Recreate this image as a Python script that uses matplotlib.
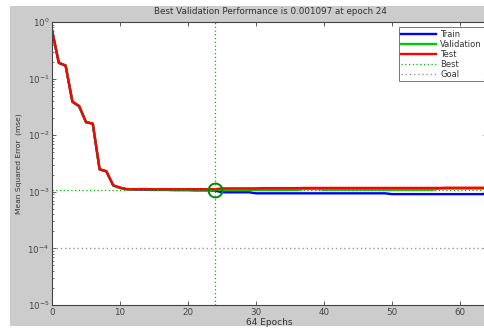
import matplotlib
matplotlib.use("Agg")
import matplotlib.pyplot as plt
from matplotlib.patches import Rectangle
from matplotlib.ticker import LogLocator, FixedLocator, NullFormatter

epochs = list(range(65))
train = [0.72, 0.19, 0.17, 0.039, 0.032, 0.017, 0.016, 0.0025, 0.0023, 0.0013,
         0.00118, 0.00111, 0.00110, 0.00109, 0.00109, 0.00108, 0.00108, 0.00108,
         0.00107, 0.00107, 0.00107, 0.00106, 0.00106, 0.00106, 0.00105,
         0.00098, 0.00098, 0.00098, 0.00098, 0.00098,
         0.00094, 0.00094, 0.00094, 0.00094, 0.00094, 0.00094, 0.00094, 0.00094,
         0.00094, 0.00094, 0.00094, 0.00094, 0.00094, 0.00094, 0.00094, 0.00094,
         0.00094, 0.00094, 0.00094, 0.00094,
         0.00091, 0.00091, 0.00091, 0.00091, 0.00091, 0.00091, 0.00091, 0.00091,
         0.00091, 0.00091, 0.00091, 0.00091, 0.00091, 0.00091, 0.00091]
validation = [0.72, 0.19, 0.17, 0.040, 0.032, 0.017, 0.016, 0.0025, 0.0023, 0.0013,
              0.00118, 0.00112, 0.00111, 0.00112, 0.00112, 0.00111, 0.00110, 0.00110,
              0.00110, 0.00110, 0.00110, 0.00110, 0.00110, 0.00110, 0.001097,
              0.00108, 0.00108, 0.00108, 0.00108, 0.00108, 0.00108, 0.00108, 0.00108,
              0.00108, 0.00108, 0.00108, 0.00108,
              0.00112, 0.00112, 0.00112,
              0.00109, 0.00109, 0.00109, 0.00109, 0.00109, 0.00109, 0.00109, 0.00109,
              0.00109, 0.00109, 0.00109, 0.00109, 0.00109, 0.00109, 0.00109, 0.00109,
              0.00109,
              0.00114, 0.00114, 0.00114, 0.00114, 0.00114, 0.00114, 0.00114, 0.00114]
test = [0.72, 0.19, 0.17, 0.039, 0.033, 0.017, 0.016, 0.0025, 0.0023, 0.0013,
        0.00118, 0.00111, 0.00111, 0.00111, 0.00111, 0.00111, 0.00111, 0.00111,
        0.00111, 0.00111, 0.00111, 0.00111, 0.00111, 0.00111, 0.00111,
        0.00115, 0.00115, 0.00115, 0.00115, 0.00115, 0.00115, 0.00116, 0.00116,
        0.00116, 0.00116, 0.00116, 0.00116, 0.00117, 0.00117, 0.00117, 0.00117,
        0.00117, 0.00117, 0.00117, 0.00117, 0.00117, 0.00117, 0.00117, 0.00117,
        0.00117, 0.00117, 0.00117, 0.00117, 0.00117, 0.00117, 0.00117, 0.00117,
        0.00117, 0.00118, 0.00118, 0.00118, 0.00118, 0.00118, 0.00118, 0.00118]
best_epoch = 24
best_perf = 0.001097
goal = 1e-4
x_ticks = [0, 10, 20, 30, 40, 50, 60]
title_text = "Best Validation Performance is 0.001097 at epoch 24"
xlabel_text = "64 Epochs"
ylabel_text = "Mean Squared Error  (mse)"

W, H = 485, 328
fig = plt.figure(figsize=(W / 100, H / 100), dpi=100)
fig.patch.set_facecolor("white")
fig.patches.append(Rectangle((10 / W, 1 - 326 / H), 1 - 10 / W, (326 - 6) / H,
                             transform=fig.transFigure, facecolor="#cccccc",
                             edgecolor="none", zorder=-10))

ax = fig.add_axes([52 / W, 1 - 305 / H, (487 - 52) / W, (305 - 22) / H])
ax.set_zorder(5)
ax.set_facecolor("white")
ax.set_yscale("log")
ax.set_xlim(0, 64)
ax.set_ylim(1e-5, 1)

ax.plot(epochs, train, color="#0000ff", lw=1.7, label="Train")
ax.plot(epochs, validation, color="#00cc00", lw=1.7, label="Validation")
ax.plot(epochs, test, color="#ff0000", lw=1.7, label="Test")
ax.axvline(best_epoch, color="#00bb00", ls=(0, (1, 2)), lw=0.9, label="Best")
ax.axhline(best_perf, color="#00bb00", ls=(0, (1, 2)), lw=0.9)
ax.axhline(goal, color="#999999", ls=(0, (1, 2)), lw=1.0, label="Goal")
ax.plot([best_epoch], [best_perf], marker="o", ms=10, mfc="none",
        mec="#008800", mew=1.4, ls="none")

ax.xaxis.set_major_locator(FixedLocator(x_ticks))
ax.yaxis.set_major_locator(LogLocator(base=10, numticks=10))
ax.yaxis.set_minor_locator(LogLocator(base=10, subs=range(2, 10), numticks=20))
ax.yaxis.set_minor_formatter(NullFormatter())
ax.tick_params(axis="both", which="both", direction="in", top=True, right=True,
               labelsize=6.3, colors="#444444", pad=2)
ax.tick_params(which="major", length=3, width=0.6)
ax.tick_params(which="minor", length=1.5, width=0.5)
for s in ax.spines.values():
    s.set_color("#444444")
    s.set_linewidth(0.8)

fig.text(270 / W, 1 - 12 / H, title_text, ha="center", va="center",
         fontsize=6.3, color="#333333")
ax.set_xlabel(xlabel_text, fontsize=6.5, color="#333333", labelpad=1)
ax.set_ylabel(ylabel_text, fontsize=5.4, color="#333333", labelpad=4)

leg = ax.legend(loc="upper right", bbox_to_anchor=(1.0, 0.99), fontsize=6.0,
                frameon=True, fancybox=False, borderpad=0.3, labelspacing=0.12,
                handlelength=4.2, handletextpad=0.5, borderaxespad=0.3)
leg.get_frame().set_edgecolor("#555555")
leg.get_frame().set_linewidth(0.7)
for t in leg.get_texts():
    t.set_color("#333333")

fig.savefig("out.png", dpi=100)
